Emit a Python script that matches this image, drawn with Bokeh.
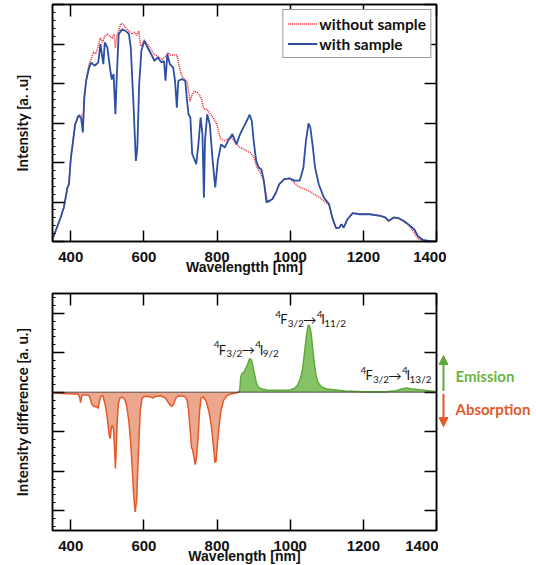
from bokeh.plotting import figure
from bokeh.models import (Range1d, LinearAxis, FixedTicker, SingleIntervalTicker, Span,
                          Label, Arrow, NormalHead, Legend, LegendItem, CustomJSTickFormatter)
from bokeh.layouts import column, row
from bokeh.embed import file_html
from bokeh.resources import INLINE

# ---------------- data ----------------
x_ticks = [400, 600, 800, 1000, 1200, 1400]

with_wl = [350, 372, 381, 391, 395, 400, 405, 412, 421, 428, 433, 437, 442, 450, 456, 465, 475,
           481, 485, 489, 493, 500, 507, 512, 517, 522, 526, 531, 540, 550, 559, 564, 571, 578,
           582, 587, 593, 601, 610, 620, 629, 638, 648, 655, 659, 664, 671, 680, 685, 690, 694,
           704, 713, 718, 722, 727, 732, 736, 743, 749, 755, 760, 764, 767, 773, 780, 788, 795,
           802, 811, 821, 830, 842, 853, 863, 872, 881, 889, 895, 900, 907, 914, 921, 928, 935,
           942, 951, 961, 970, 984, 998, 1012, 1026, 1036, 1043, 1050, 1055, 1061, 1068, 1078,
           1092, 1106, 1115, 1125, 1134, 1140, 1146, 1157, 1171, 1190, 1218, 1246, 1260, 1269,
           1283, 1297, 1311, 1325, 1339, 1349, 1363, 1386, 1400]
with_val = [0.06, 0.6, 0.86, 1.37, 1.45, 2.1, 2.46, 2.97, 3.18, 3.14, 2.76, 3.65, 4.07, 4.4,
            4.53, 4.45, 4.53, 5.0, 4.74, 4.49, 5.04, 4.91, 4.4, 4.1, 4.24, 3.22, 4.24, 5.25,
            5.37, 5.33, 5.25, 4.91, 3.56, 2.04, 2.38, 3.98, 4.83, 5.08, 4.91, 4.74, 4.57, 4.66,
            4.53, 4.57, 4.07, 4.74, 4.49, 4.4, 4.07, 3.39, 4.07, 4.11, 4.07, 3.56, 3.22, 3.14,
            2.21, 2.13, 1.96, 2.46, 3.14, 2.72, 1.11, 2.55, 3.22, 2.97, 2.04, 1.37, 2.04, 2.46,
            2.38, 2.55, 2.72, 2.46, 2.72, 2.89, 3.05, 3.21, 3.05, 2.55, 2.04, 1.87, 1.83, 1.54,
            0.99, 1.03, 1.07, 1.24, 1.45, 1.58, 1.6, 1.54, 1.54, 1.87, 2.55, 2.99, 2.89, 2.46,
            1.87, 1.45, 1.11, 0.95, 0.61, 0.34, 0.35, 0.44, 0.35, 0.57, 0.72, 0.69, 0.69, 0.65,
            0.61, 0.52, 0.61, 0.59, 0.52, 0.42, 0.31, 0.14, 0.04, 0.0, 0.0]

without_wl = [350, 372, 381, 391, 395, 400, 405, 412, 421, 428, 433, 437, 442, 450, 457, 462,
              468, 475, 481, 487, 493, 500, 507, 513, 518, 522, 526, 531, 537, 543, 550, 556,
              562, 568, 574, 580, 586, 591, 596, 601, 610, 620, 630, 640, 650, 660, 666, 672,
              690, 695, 700, 706, 712, 718, 722, 726, 731, 737, 745, 752, 758, 762, 766, 772,
              780, 788, 795, 800, 805, 810, 820, 830, 840, 850, 860, 870, 880, 890, 900, 905,
              910, 918, 925, 932, 937, 942, 951, 961, 970, 984, 998, 1010, 1021, 1050, 1078,
              1097, 1106, 1115, 1125, 1134, 1140, 1146, 1157, 1171, 1190, 1218, 1246, 1260,
              1269, 1283, 1297, 1311, 1325, 1339, 1349, 1360, 1380, 1400]
without_val = [0.06, 0.6, 0.86, 1.37, 1.45, 2.1, 2.46, 2.97, 3.2, 3.2, 3.0, 3.65, 4.07, 4.5,
               4.65, 4.8, 4.75, 4.95, 5.15, 5.05, 5.2, 5.25, 5.2, 5.15, 5.25, 4.9, 5.2, 5.35,
               5.52, 5.5, 5.42, 5.35, 5.3, 5.25, 5.3, 5.22, 5.32, 4.95, 5.0, 5.1, 5.0, 4.85,
               4.72, 4.68, 4.6, 4.7, 4.78, 4.72, 4.72, 4.5, 4.3, 4.15, 4.1, 4.05, 3.8, 3.55,
               3.7, 3.8, 3.78, 3.7, 3.6, 3.4, 3.35, 3.35, 3.25, 3.15, 3.05, 2.95, 2.75, 2.6,
               2.55, 2.6, 2.62, 2.5, 2.4, 2.35, 2.3, 2.25, 2.15, 2.0, 1.85, 1.75, 1.6, 1.3,
               1.05, 1.0, 1.07, 1.24, 1.45, 1.58, 1.6, 1.5, 1.4, 1.28, 1.13, 0.99, 0.93, 0.61,
               0.34, 0.35, 0.44, 0.35, 0.57, 0.72, 0.69, 0.69, 0.65, 0.61, 0.52, 0.6, 0.58,
               0.5, 0.4, 0.22, 0.08, 0.03, 0.0, 0.0]

absorb_wl = [350, 380, 400, 420, 424, 427, 430, 435, 450, 453, 457, 462, 467, 471, 475, 478,
             481, 487, 491, 495, 500, 505, 508, 511, 514, 517, 520, 522, 524, 527, 530, 534,
             540, 547, 553, 559, 564, 568, 572, 576, 580, 583, 586, 590, 595, 600, 612, 620,
             625, 630, 645, 658, 666, 672, 677, 682, 688, 695, 712, 718, 722, 726, 730, 733,
             736, 740, 744, 748, 752, 756, 762, 770, 778, 785, 790, 794, 797, 801, 806, 811,
             818, 828, 840, 850, 860]
absorb_val = [-0.02, -0.03, -0.04, -0.05, -0.12, -0.26, -0.1, -0.06, -0.08, -0.15, -0.29,
              -0.35, -0.37, -0.36, -0.41, -0.25, -0.12, -0.08, -0.2, -0.35, -0.67, -1.09,
              -1.17, -0.88, -0.84, -0.95, -1.5, -1.93, -1.5, -0.75, -0.3, -0.15, -0.12, -0.17,
              -0.35, -0.75, -1.3, -1.93, -2.6, -3.03, -2.75, -2.0, -1.3, -0.45, -0.15, -0.11,
              -0.1, -0.13, -0.15, -0.11, -0.09, -0.14, -0.25, -0.33, -0.36, -0.28, -0.14,
              -0.09, -0.11, -0.2, -0.45, -0.9, -1.4, -1.45, -1.6, -1.83, -1.65, -1.15, -0.5,
              -0.15, -0.12, -0.22, -0.5, -0.9, -1.35, -1.78, -1.75, -1.3, -0.8, -0.45, -0.2,
              -0.08, -0.04, -0.02, 0.0]

emit_wl = [858, 862, 865, 868, 873, 878, 884, 889, 894, 898, 903, 908, 914, 922, 940, 980,
           1000, 1012, 1020, 1028, 1034, 1039, 1044, 1049, 1053, 1057, 1061, 1065, 1070, 1076,
           1085, 1100, 1150, 1200, 1260, 1290, 1305, 1317, 1330, 1360, 1400]
emit_val = [0.0, 0.05, 0.4, 0.47, 0.5, 0.6, 0.72, 0.85, 0.82, 0.65, 0.43, 0.22, 0.12, 0.08,
            0.05, 0.05, 0.06, 0.1, 0.18, 0.35, 0.6, 1.0, 1.4, 1.7, 1.68, 1.5, 1.15, 0.8, 0.45,
            0.25, 0.14, 0.08, 0.03, 0.01, 0.01, 0.04, 0.08, 0.11, 0.09, 0.06, 0.01]

legend_labels = ["without sample", "with sample"]
transitions = ["9/2", "11/2", "13/2"]

# ---------------- styling ----------------
FONT = "Lato"
XFONT = "Liberation Sans"
BLUE = "#2c4fa3"
RED = "#e8212b"
GREEN_LINE = "#5faa3a"
GREEN_FILL = "#86c266"
GREEN_TEXT = "#6bb544"
ORANGE_LINE = "#e4592a"
ORANGE_FILL = "#eba88f"

blank = CustomJSTickFormatter(code="return ''")


def make_fig(yr, xlabel, ylabel, right_border, top_border, bottom_border):
    p = figure(frame_width=384, frame_height=237, x_range=Range1d(350, 1400), y_range=yr,
               output_backend="svg", toolbar_location=None,
               min_border_left=52, min_border_right=right_border,
               min_border_top=top_border, min_border_bottom=bottom_border,
               background_fill_color="white", border_fill_color="white")
    p.xgrid.visible = False
    p.ygrid.visible = False
    p.outline_line_color = "black"
    p.outline_line_width = 1.5

    xa = p.xaxis[0]
    xa.ticker = FixedTicker(ticks=x_ticks, minor_ticks=[])
    xa.axis_label = xlabel
    xa.axis_label_text_font = XFONT
    xa.axis_label_text_font_style = "bold"
    xa.axis_label_text_font_size = "14px"
    xa.axis_label_text_color = "#111111"
    xa.axis_label_standoff = -6
    xa.major_label_text_font = XFONT
    xa.major_label_text_font_style = "bold"
    xa.major_label_text_font_size = "15px"
    xa.major_label_text_color = "#111111"
    xa.major_label_standoff = 10
    xa.major_tick_in = 11
    xa.major_tick_out = 0
    xa.major_tick_line_width = 1.5
    xa.axis_line_width = 1.5

    ya = p.yaxis[0]
    ya.ticker = SingleIntervalTicker(interval=1, num_minor_ticks=5)
    ya.formatter = blank
    ya.axis_label = ylabel
    ya.axis_label_text_font = FONT
    ya.axis_label_text_font_style = "bold"
    ya.axis_label_text_font_size = "15px"
    ya.axis_label_text_color = "#111111"
    ya.major_label_standoff = 0
    ya.axis_label_standoff = 22
    ya.major_tick_in = 12
    ya.major_tick_out = 0
    ya.minor_tick_in = 3
    ya.minor_tick_out = 0
    ya.major_tick_line_width = 1.5
    ya.axis_line_width = 1.5

    top = LinearAxis(ticker=FixedTicker(ticks=x_ticks, minor_ticks=[]), formatter=blank,
                     major_label_standoff=0, major_tick_in=12, major_tick_out=0,
                     minor_tick_in=0, minor_tick_out=0, major_tick_line_width=1.5,
                     axis_line_width=1.5)
    p.add_layout(top, "above")
    right = LinearAxis(ticker=SingleIntervalTicker(interval=1, num_minor_ticks=5),
                       formatter=blank, major_label_standoff=0, major_tick_in=12,
                       major_tick_out=0, minor_tick_in=0, minor_tick_out=0,
                       major_tick_line_width=1.5, axis_line_width=1.5)
    p.add_layout(right, "right")
    return p


# ---------------- top panel ----------------
p1 = make_fig(Range1d(0, 6), "Wavelengtth [nm]", "Intensity [a. .u]", 10, 4, 40)
r_without = p1.line(without_wl, without_val, line_color=RED, line_width=1.5, line_dash="1 1")
r_with = p1.line(with_wl, with_val, line_color=BLUE, line_width=1.8)
leg = Legend(items=[LegendItem(label=legend_labels[0], renderers=[r_without]),
                    LegendItem(label=legend_labels[1], renderers=[r_with])],
             location="top_right", margin=5, padding=4, spacing=1,
             glyph_width=30, label_standoff=2, label_height=19, glyph_height=19,
             label_text_font=FONT, label_text_font_style="bold",
             label_text_font_size="15.5px", label_text_color="#111111",
             border_line_color="#333333", border_line_width=1.5,
             background_fill_color="white", background_fill_alpha=1.0)
p1.add_layout(leg, "center")

# ---------------- bottom panel ----------------
p2 = make_fig(Range1d(-3.5, 2.5), "Wavelength [nm]", "Intensity difference [a. u.]", 2, 12, 35)
p2.varea(x=absorb_wl, y1=absorb_val, y2=[0] * len(absorb_wl), fill_color=ORANGE_FILL)
p2.line(absorb_wl, absorb_val, line_color=ORANGE_LINE, line_width=1.5)
p2.varea(x=emit_wl, y1=emit_val, y2=[0] * len(emit_wl), fill_color=GREEN_FILL)
p2.line(emit_wl, emit_val, line_color=GREEN_LINE, line_width=1.5)
p2.add_layout(Span(location=0, dimension="width", line_color="#222222",
                   line_width=1.5, line_dash="1 1"))


def transition_label(p, x, y, final):
    pieces = [("4", 0, 5, "10px"), ("F", 5, 0, "13px"), ("3/2", 12.5, -3.5, "10px"),
              ("\u2192", 28, 0, "13px"), ("4", 41.5, 5, "10px"), ("I", 46, 0, "13px"),
              (final, 49, -3.5, "10px")]
    for txt, dx, dy, size in pieces:
        font = "Noto Sans CJK JP" if txt == "\u2192" else FONT
        p.add_layout(Label(x=x, y=y, x_offset=dx, y_offset=dy, text=txt,
                           text_font=font, text_font_size=size,
                           text_color="#1a1a1a", text_baseline="alphabetic",
                           text_align="left"))


transition_label(p2, 790.7, 1.08, transitions[0])
transition_label(p2, 958.8, 1.85, transitions[1])
transition_label(p2, 1192.3, 0.43, transitions[2])

# side panel holding the emission / absorption key (same vertical scale)
p3 = figure(frame_width=96, frame_height=237, x_range=Range1d(0, 96),
            y_range=Range1d(-3.5, 2.5), output_backend="svg", toolbar_location=None,
            min_border_left=0, min_border_right=0, min_border_top=12, min_border_bottom=35,
            background_fill_color="white", border_fill_color="white")
p3.axis.visible = False
p3.xgrid.visible = False
p3.ygrid.visible = False
p3.outline_line_color = None
p3.add_layout(Arrow(end=NormalHead(size=9, fill_color=GREEN_LINE, line_color=GREEN_LINE),
                    x_start=5, y_start=0.03, x_end=5, y_end=0.93,
                    line_color=GREEN_LINE, line_width=2))
p3.add_layout(Arrow(end=NormalHead(size=9, fill_color=ORANGE_LINE, line_color=ORANGE_LINE),
                    x_start=5, y_start=-0.04, x_end=5, y_end=-0.87,
                    line_color=ORANGE_LINE, line_width=2))
p3.add_layout(Label(x=17, y=0.41, text="Emission", text_font=FONT,
                    text_font_style="bold", text_font_size="15px", text_color=GREEN_TEXT,
                    text_baseline="middle", text_align="left"))
p3.add_layout(Label(x=17, y=-0.42, text="Absorption", text_font=FONT,
                    text_font_style="bold", text_font_size="15px", text_color=ORANGE_LINE,
                    text_baseline="middle", text_align="left"))

layout = column(p1, row(p2, p3, spacing=0), spacing=0)
open("out.html", "w").write(file_html(layout, INLINE))
